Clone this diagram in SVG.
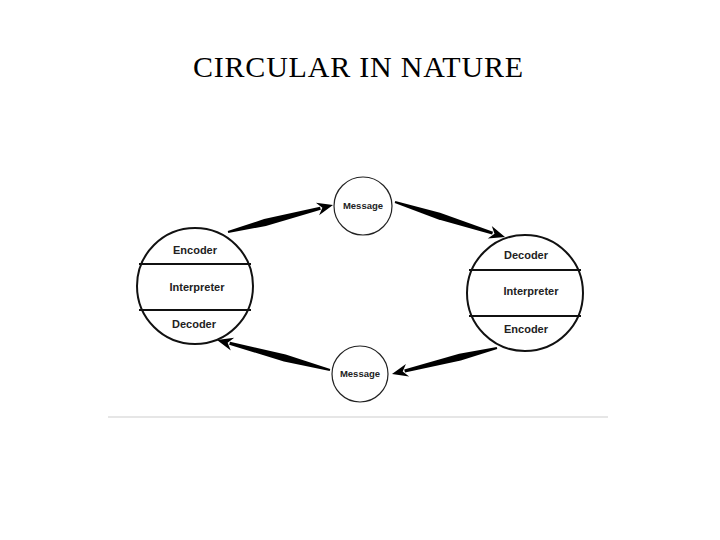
<svg xmlns="http://www.w3.org/2000/svg" width="720" height="540" viewBox="0 0 720 540">
<style>
.c{fill:#fff;stroke:#111;stroke-width:2}
.m{fill:#fff;stroke:#222;stroke-width:1.2}
.d{stroke:#111;stroke-width:2}
.t{font-family:"Liberation Sans",Arial,sans-serif;font-weight:bold;font-size:11px;fill:#222;text-anchor:middle}
.s{font-family:"Liberation Sans",Arial,sans-serif;font-weight:bold;font-size:9.5px;fill:#222;text-anchor:middle}
.a{fill:#000}
</style>
<rect width="720" height="540" fill="#fff"/>
<text x="358" y="77" font-family="'Liberation Serif',serif" font-size="30" text-anchor="middle" textLength="330" fill="#000">CIRCULAR IN NATURE</text>
<line x1="108" y1="417" x2="608" y2="417" stroke="#e6e6e6" stroke-width="2"/>
<g id="connectors">
<polygon class="a" points="228.25,232.97 265.9,225.9 320.8,209.7 320,206.8 264.1,219.1 227.75,231.03"/>
<polygon class="a" points="333,205 319.1,215.3 322.4,207.7 315.9,202.7"/>
<polygon class="a" points="394.7,202.95 437.8,219.3 492.15,234.5 493.05,231.7 440,212.7 395.3,201.05"/>
<polygon class="a" points="505,237 487.8,238.4 494.5,233.7 491.8,226"/>
<polygon class="a" points="496.76,347.03 459.2,353.8 404.2,369.4 405,372.4 460.8,360.6 497.24,348.97"/>
<polygon class="a" points="392,374 405.9,363.9 402.7,371.4 409.1,376.5"/>
<polygon class="a" points="330.26,369.03 285.7,354.6 230,341.85 229.2,344.75 283.9,361.4 329.74,370.97"/>
<polygon class="a" points="217,340 234.2,337.8 227.6,342.8 230.8,350.4"/>
</g>
<g id="left-node">
<circle class="c" cx="195" cy="286" r="58"/>
<line class="d" x1="139" y1="264" x2="251" y2="264"/>
<line class="d" x1="139" y1="310" x2="251" y2="310"/>
<text class="t" x="195" y="254">Encoder</text>
<text class="t" x="197" y="291">Interpreter</text>
<text class="t" x="194" y="328">Decoder</text>
</g>
<g id="message-top">
<circle class="m" cx="363" cy="206" r="29"/>
<text class="s" x="363" y="209">Message</text>
</g>
<g id="right-node">
<circle class="c" cx="525" cy="293" r="58"/>
<line class="d" x1="469" y1="270" x2="581" y2="270"/>
<line class="d" x1="469" y1="316" x2="581" y2="316"/>
<text class="t" x="526" y="259">Decoder</text>
<text class="t" x="531" y="295">Interpreter</text>
<text class="t" x="526" y="333">Encoder</text>
</g>
<g id="message-bottom">
<circle class="m" cx="360" cy="374" r="28"/>
<text class="s" x="360" y="377">Message</text>
</g>
</svg>
